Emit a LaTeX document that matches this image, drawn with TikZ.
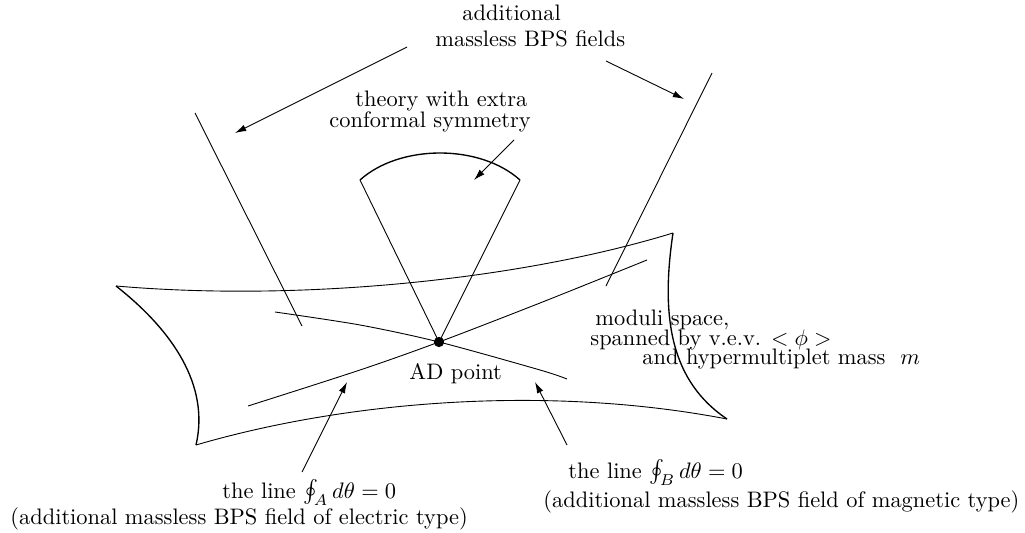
\documentclass[tikz,border=0pt]{standalone}
\usepackage{amsmath,amssymb}
\usepackage{tikz}
\usetikzlibrary{arrows.meta}

\begin{document}
\begin{tikzpicture}[>={Latex[length=5pt, width=3pt]}, x=0.4464pt, y=-0.4464pt,
    lbl/.style={inner sep=0pt, anchor=base west},
    rim/.style={semithick}]

  \useasboundingbox (0,0) rectangle (1025,533);

  % corners of the moduli space sheet
  \coordinate (tl) at (116,286);
  \coordinate (tr) at (673,233);
  \coordinate (br) at (727,419);
  \coordinate (bl) at (196,445);

  % moduli space sheet
  \draw (tl) .. controls (300,302) and (520,280) .. (tr);
  \draw[rim] (tr) .. controls (660,320) and (672,382) .. (br);
  \draw (bl) .. controls (350,400) and (550,385) .. (br);
  \draw[rim] (tl) .. controls (172,330) and (210,385) .. (bl);

  % AD point
  \node[circle, fill, inner sep=0pt, minimum size=4.6pt] (ad) at (439,342) {};

  % lines through the AD point (electric / magnetic)
  \draw plot[smooth] coordinates {(248,406) (360,370) (ad.center) (540,303) (647,260)};
  \draw plot[smooth] coordinates {(275,312) (360,325) (ad.center) (540,370) (567,379)};

  % wedge of the conformal theory
  \coordinate (wl) at (360,180);
  \coordinate (wr) at (520,180);
  \draw (ad.center) -- (wl);
  \draw (ad.center) -- (wr);
  \draw[rim] (wl) .. controls (400,144) and (480,144) .. (wr);

  % extra BPS field directions
  \coordinate (bpsLa) at (195,113);
  \coordinate (bpsLb) at (302,326);
  \coordinate (bpsRa) at (712,73);
  \coordinate (bpsRb) at (606,286);
  \draw (bpsLa) -- (bpsLb);
  \draw (bpsRa) -- (bpsRb);

  % texts
  \node[lbl] (add1) at (462,21) {additional};
  \node[lbl] (add2) at (435,47) {massless BPS fields};
  \node[lbl] (thy1) at (355,106) {theory with extra};
  \node[lbl] (thy2) at (329,127) {conformal symmetry};
  \node[lbl] (adlbl) at (409,379) {AD point};
  \node[lbl] (mod1) at (595,325) {moduli space,};
  \node[lbl] (mod2) at (590,345) {spanned by v.e.v. $<\phi>$};
  \node[lbl] (mod3) at (642,364) {and hypermultiplet mass\ \ $m$};
  \node[lbl] (elec1) at (222,498) {the line $\oint_A d\theta=0$};
  \node[lbl] (elec2) at (10,524) {(additional massless BPS field of electric type)};
  \node[lbl] (magn1) at (568,478) {the line $\oint_B d\theta=0$};
  \node[lbl] (magn2) at (543,507) {(additional massless BPS field of magnetic type)};

  % pointer ends
  \coordinate (ptL0) at (407,47);   \coordinate (ptL) at (235,133);
  \coordinate (ptR0) at (606,61);   \coordinate (ptR) at (684,99);
  \coordinate (ptC0) at (514,140);  \coordinate (ptC) at (474,180);
  \coordinate (ptA0) at (302,472);  \coordinate (ptA) at (347,382);
  \coordinate (ptB0) at (567,445);  \coordinate (ptB) at (535,382);

  % pointers
  \foreach \s/\t in {ptL0/ptL, ptR0/ptR, ptC0/ptC, ptA0/ptA, ptB0/ptB}
    \draw[->] (\s) -- (\t);

\end{tikzpicture}
\end{document}
